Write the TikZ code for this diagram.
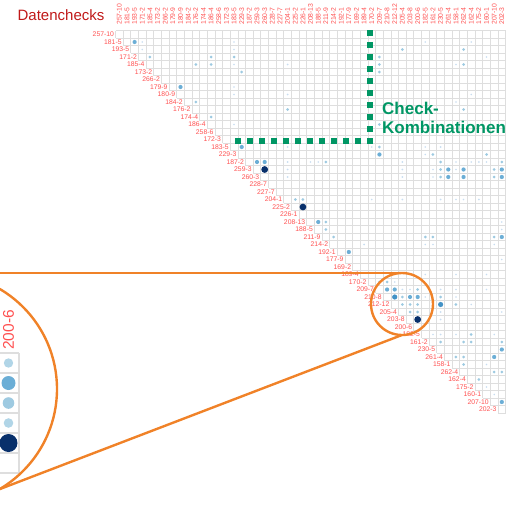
\documentclass[tikz,border=0pt]{standalone}
\usepackage{fontspec}
\setmainfont{Liberation Sans}
\definecolor{labred}{RGB}{255,80,80}
\definecolor{titlered}{RGB}{192,24,24}
\definecolor{checkgreen}{RGB}{0,150,100}
\definecolor{lensorange}{RGB}{240,130,40}
\definecolor{gridgray}{RGB}{222,222,222}
\definecolor{blue1}{RGB}{200,221,240}
\definecolor{blue2}{RGB}{158,202,225}
\definecolor{blue3}{RGB}{107,174,214}
\definecolor{blue4}{RGB}{66,146,198}
\definecolor{blue5}{RGB}{8,48,107}
\tikzset{
	gridline/.style={draw=gridgray, line width=0.8pt},
	dot1/.style={fill=blue1, radius=0.9pt},
	dot2/.style={fill=blue2, radius=1.5pt},
	dot3/.style={fill=blue3, radius=2.1pt},
	dot4/.style={fill=blue4, radius=2.6pt},
	dot5/.style={fill=blue5, radius=3.4pt},
	rowlab/.style={text=labred, font=\fontsize{6.8}{7}\selectfont, inner sep=0.6pt, anchor=east},
	collab/.style={text=labred, font=\fontsize{6.8}{7}\selectfont, inner sep=0.6pt, anchor=west, rotate=90},
	lens/.style={draw=lensorange, line width=2.4pt},
	checkline/.style={draw=checkgreen, line width=6pt, dash pattern=on 6pt off 6pt}
}
\begin{document}
\begin{tikzpicture}[x=1pt,y=-1pt]
	\useasboundingbox (0,0) rectangle (506,506);
	% grid of the upper triangle
	\foreach \k in {0,...,51} {
		\pgfmathsetmacro{\xs}{115.5+max(\k-1,0)*7.65}
		\draw[gridline] (\xs,{30.75+\k*7.5}) -- (505.65,{30.75+\k*7.5});
	}
	\foreach \k in {0,...,51} {
		\pgfmathsetmacro{\ye}{30.75+min(\k+1,51)*7.5}
		\draw[gridline] ({115.5+\k*7.65},30.75) -- ({115.5+\k*7.65},\ye);
	}
	% row and column labels
	\foreach \n [count=\i] in {257-10,181-5,193-5,171-2,185-4,173-2,266-2,179-9,180-9,184-2,
		176-2,174-4,186-4,258-6,172-3,183-5,229-3,187-2,259-3,260-3,
		228-7,227-7,204-1,225-2,226-1,208-13,188-5,211-9,214-2,192-1,
		177-9,169-2,189-4,170-2,209-7,210-8,212-12,205-4,203-8,200-6,
		182-5,161-2,230-5,261-4,158-1,262-4,162-4,175-2,160-1,207-10,202-3} {
		\node[rowlab] (r\i) at ({115.5+(\i-1)*7.65-0.8},{30.75+(\i-0.5)*7.5}) {\n};
		\node[collab] (c\i) at ({115.5+(\i-0.5)*7.65},25.5) {\n};
	}
	% check results
	\foreach \r/\c/\s in {2/3/3,2/4/1,2/16/1,2/41/1,2/47/1,
		3/4/1,3/16/1,3/38/2,3/46/2,
		4/5/2,4/13/2,4/16/2,4/35/2,4/49/1,
		5/11/2,5/13/2,5/16/1,5/23/1,5/35/2,5/45/1,5/46/2,
		6/17/2,6/35/2,8/9/3,8/16/1,9/16/1,9/23/1,9/47/1,
		10/11/2,10/45/1,11/23/2,11/46/2,12/13/2,13/16/1,13/35/2,
		16/17/3,16/23/1,16/34/1,16/35/2,16/41/1,16/43/1,
		17/35/3,17/41/1,17/42/2,17/49/2,
		18/19/3,18/20/3,18/23/1,18/26/1,18/27/1,18/28/2,18/38/1,18/43/2,
		18/45/1,18/47/1,18/48/1,18/49/1,18/51/2,
		19/20/5,19/23/1,19/38/1,19/42/1,19/43/2,19/44/3,19/45/1,19/46/3,19/50/2,19/51/3,
		20/23/1,20/38/1,20/42/1,20/43/2,20/44/3,20/46/3,20/50/2,20/51/3,
		23/24/2,23/25/2,23/34/1,23/38/1,23/43/1,23/45/1,23/46/1,23/48/1,
		24/25/5,26/27/3,26/28/2,26/51/1,27/28/2,27/51/1,
		28/29/2,28/41/2,28/42/2,28/50/2,28/51/3,
		29/33/1,29/41/1,29/42/1,29/50/1,30/31/3,31/51/1,
		33/41/1,33/45/1,33/49/1,34/35/2,34/36/2,34/37/1,
		35/36/3,35/37/3,35/38/1,35/39/1,35/40/2,35/43/1,35/45/1,35/49/1,
		36/37/4,36/38/2,36/39/3,36/40/3,36/41/1,36/43/2,36/45/1,
		37/38/2,37/39/2,37/40/2,37/43/4,37/45/2,37/47/1,
		38/39/2,38/40/2,38/43/1,38/51/1,39/40/5,39/43/1,
		41/42/1,41/43/1,41/45/1,41/47/2,41/50/1,
		42/43/2,42/46/2,42/47/2,42/51/2,43/51/3,
		44/45/2,44/46/2,44/50/3,45/46/2,45/49/1,46/50/2,46/51/2,
		47/48/2,48/49/1,49/50/1,50/51/3}
		\fill[dot\s] ({115.5+(\c-0.5)*7.65},{30.75+(\r-0.5)*7.5}) circle;
	% marked check combinations
	\coordinate (ktop) at (370,30);
	\coordinate (kcorner) at (370,144);
	\coordinate (khstart) at (373,141);
	\coordinate (kleft) at (235,141);
	\draw[checkline] (kcorner) -- (ktop);
	\draw[checkline] (khstart) -- (kleft);
	\node[text=checkgreen, font=\bfseries\fontsize{17}{19.5}\selectfont, align=left, anchor=west, inner sep=0pt] (kombi) at (382,118) {Check-\\Kombinationen};
	\node[text=titlered, font=\fontsize{15}{17}\selectfont, inner sep=0pt] (title) at (61,15) {Datenchecks};
	% magnified column
	\coordinate (lensc) at (402,304);
	\coordinate (bigc) at (-59,389);
	\begin{scope}
		\clip (bigc) circle[radius=116pt];
		\foreach \k in {0,...,6}
			\draw[gridline, line width=1.2pt] (-40,{353+\k*20}) -- (19,{353+\k*20});
		\draw[gridline, line width=1.2pt] (19,353) -- (19,473);
		\fill[blue2!80!white] (8.5,363) circle[radius=4.7pt];
		\fill[blue3] (8.5,383) circle[radius=7pt];
		\fill[blue2] (8.5,403) circle[radius=5.8pt];
		\fill[blue2!80!white] (8.5,423) circle[radius=4.8pt];
		\fill[blue5] (8.5,443) circle[radius=9pt];
		\node[text=labred, font=\fontsize{15.5}{17}\selectfont, inner sep=0pt, anchor=west, rotate=90] (zoomlab) at (8.5,350) {200-6};
	\end{scope}
	% lens
	\coordinate (bigtop) at (-59,273);
	\coordinate (lenstop) at (402,273);
	\coordinate (lensbot) at (402,335);
	\coordinate (bigbot) at (0,489);
	\draw[lens] (lensc) circle[radius=31pt];
	\draw[lens] (bigc) circle[radius=116pt];
	\draw[lens] (bigtop) -- (lenstop);
	\draw[lens] (lensbot) -- (bigbot);
\end{tikzpicture}
\end{document}
